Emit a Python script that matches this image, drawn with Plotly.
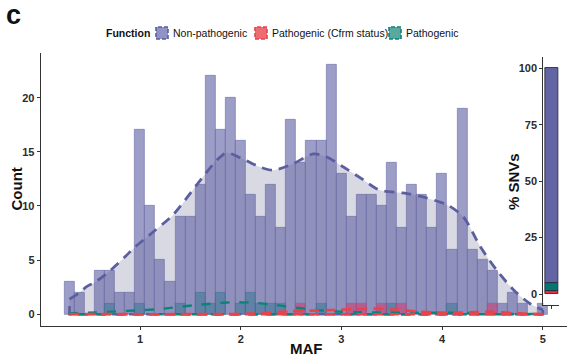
import plotly.graph_objects as go

# ---- data -------------------------------------------------------------
maf_bins = [0.3, 0.4, 0.5, 0.6, 0.7, 0.8, 0.9,
            1.0, 1.1, 1.2, 1.3, 1.4, 1.5, 1.6, 1.7, 1.8, 1.9,
            2.0, 2.1, 2.2, 2.3, 2.4, 2.5, 2.6, 2.7, 2.8, 2.9,
            3.0, 3.1, 3.2, 3.3, 3.4, 3.5, 3.6, 3.7, 3.8, 3.9,
            4.0, 4.1, 4.2, 4.3, 4.4, 4.5, 4.6, 4.7, 4.8, 4.9,
            5.0]
count_nonpath = [3, 2, 0, 4, 4, 2, 2,
                 17, 10, 5, 3, 9, 9, 12, 22, 17, 20,
                 16, 11, 9, 12, 8, 18, 14, 16, 16, 23,
                 13, 9, 11, 11, 10, 14, 8, 12, 11, 8,
                 13, 6, 19, 6, 5, 4, 1, 2, 1, 0,
                 1]
count_cfrm = [0, 0, 0, 0, 0, 0, 0,
              0, 0, 0, 0, 0, 0, 0, 0, 0, 0,
              0, 0, 0, 0, 0, 0, 1, 0, 0, 0,
              0, 1, 1, 0, 1, 0, 1, 0, 0, 0,
              0, 0, 0, 0, 0, 1, 0, 0, 0, 0,
              0]
count_path = [0, 0, 0, 0, 1, 0, 0,
              1, 0, 0, 0, 1, 0, 2, 1, 2, 0,
              1, 2, 1, 1, 1, 0, 0, 0, 1, 0,
              0, 0, 0, 0, 0, 1, 0, 0, 0, 0,
              0, 1, 0, 0, 0, 0, 0, 0, 0, 0,
              0]

# density curves (scaled to counts)
dens_nonpath_x = [0.3, 0.4, 0.47, 0.56, 0.7, 0.85, 0.95, 1.13, 1.33, 1.56, 1.76,
                  1.86, 2.03, 2.19, 2.32, 2.52, 2.72, 2.85, 3.02, 3.22, 3.37,
                  3.61, 3.78, 4.05, 4.21, 4.38, 4.54, 4.71, 4.87, 5.0]
dens_nonpath_y = [1.4, 2.0, 2.55, 3.0, 4.0, 5.3, 6.2, 7.6, 9.2, 11.9, 14.2,
                  14.9, 14.3, 13.6, 13.3, 13.9, 14.8, 14.55, 13.6, 12.4, 11.5,
                  11.2, 10.9, 10.1, 9.0, 6.24, 4.1, 2.25, 1.0, 0.4]
dens_path_x = [0.3, 0.57, 0.77, 0.97, 1.16, 1.36, 1.53, 1.76, 1.97, 2.15, 2.35,
               2.55, 2.75, 2.95, 3.15, 3.4, 3.7, 4.0, 4.2, 4.4, 4.6, 4.8, 5.0]
dens_path_y = [0.05, 0.18, 0.27, 0.36, 0.46, 0.65, 0.83, 1.02, 1.13, 1.05, 0.86,
               0.61, 0.4, 0.26, 0.2, 0.17, 0.15, 0.14, 0.13, 0.08, 0.04, 0.02, 0.01]
dens_cfrm_x = [0.3, 1.0, 1.8, 2.1, 2.3, 2.5, 2.72, 2.92, 3.15, 3.35, 3.55,
               3.75, 3.95, 4.15, 4.35, 4.5, 4.7, 4.85, 5.0]
dens_cfrm_y = [0.01, 0.01, 0.02, 0.06, 0.17, 0.28, 0.34, 0.4, 0.49, 0.52, 0.42,
               0.26, 0.16, 0.16, 0.21, 0.23, 0.12, 0.05, 0.02]

groups = ["Non-pathogenic", "Pathogenic (Cfrm status)", "Pathogenic"]
y_ticks = [0, 5, 10, 15, 20]
x_ticks = [1, 2, 3, 4, 5]
pct_ticks = [0, 25, 50, 75, 100]

# ---- styling ----------------------------------------------------------
W, H = 567, 360
FONT = "Liberation Sans, Arial, Helvetica, sans-serif"
PURPLE_LINE = "#5b5e9f"
TEAL_LINE = "#0b8478"
RED_LINE = "#e8434a"


def px_x(p):
    return p / W


def px_y(p):
    return 1 - p / H


def nz(vals):
    return [v if v else None for v in vals]


fig = go.Figure()

# histogram bars (overlaid)
fig.add_trace(go.Bar(
    x=maf_bins, y=nz(count_nonpath), width=0.1, name=groups[0],
    marker=dict(color="rgba(106,108,172,0.66)",
                line=dict(color="rgba(110,112,170,0.9)", width=0.7)),
    showlegend=False))
fig.add_trace(go.Bar(
    x=maf_bins, y=nz(count_path), width=0.1, name=groups[2],
    marker=dict(color="rgba(20,115,140,0.45)",
                line=dict(color="rgba(40,110,150,0.6)", width=0.7)),
    showlegend=False))
fig.add_trace(go.Bar(
    x=maf_bins, y=nz(count_cfrm), width=0.1, name=groups[1],
    marker=dict(color="rgba(240,40,100,0.55)",
                line=dict(color="rgba(220,60,120,0.7)", width=0.7)),
    showlegend=False))

# translucent density area of non-pathogenic SNVs
fig.add_trace(go.Scatter(
    x=dens_nonpath_x, y=dens_nonpath_y, mode="lines",
    line=dict(shape="spline", smoothing=0.8, width=0, color="rgba(0,0,0,0)"),
    fill="tozeroy", fillcolor="rgba(105,105,148,0.25)", hoverinfo="skip",
    showlegend=False))

# density outlines
fig.add_trace(go.Scatter(
    x=[dens_nonpath_x[-1], dens_nonpath_x[-1], dens_nonpath_x[0], dens_nonpath_x[0]],
    y=[dens_nonpath_y[-1], 0, 0, dens_nonpath_y[0]], mode="lines",
    line=dict(color=PURPLE_LINE, width=2.6, dash="10px,7px"),
    hoverinfo="skip", showlegend=False))
fig.add_trace(go.Scatter(
    x=dens_nonpath_x, y=dens_nonpath_y, mode="lines",
    line=dict(shape="spline", smoothing=0.8, color=PURPLE_LINE, width=2.8,
              dash="10px,7px"),
    hoverinfo="skip", showlegend=False))

fig.add_trace(go.Scatter(
    x=[dens_path_x[0]] + dens_path_x + [dens_path_x[-1]],
    y=[0] + dens_path_y + [0], mode="lines",
    line=dict(shape="spline", smoothing=0.6, color=TEAL_LINE, width=2.4,
              dash="9px,10px"),
    hoverinfo="skip", showlegend=False))
fig.add_trace(go.Scatter(
    x=[dens_path_x[-1], dens_path_x[0]], y=[0, 0], mode="lines",
    line=dict(color=TEAL_LINE, width=2.4, dash="9px,10px"),
    hoverinfo="skip", showlegend=False))

fig.add_trace(go.Scatter(
    x=[dens_cfrm_x[0]] + dens_cfrm_x + [dens_cfrm_x[-1]],
    y=[0] + dens_cfrm_y + [0], mode="lines",
    line=dict(shape="spline", smoothing=0.6, color=RED_LINE, width=2.6,
              dash="10px,6px"),
    hoverinfo="skip", showlegend=False))
fig.add_trace(go.Scatter(
    x=[dens_cfrm_x[-1], dens_cfrm_x[0]], y=[0, 0], mode="lines",
    line=dict(color=RED_LINE, width=2.6, dash="10px,6px"),
    hoverinfo="skip", showlegend=False))

# ---- inset: share of SNVs per function (stacked) ----------------------
n_total = sum(count_nonpath) + sum(count_path) + sum(count_cfrm)
pct_cfrm = 100 * sum(count_cfrm) / n_total
pct_path = 100 * sum(count_path) / n_total
pct_nonpath = 100 * sum(count_nonpath) / n_total

stack = [(pct_cfrm, "#d9363b"), (pct_path, "#04786e"), (pct_nonpath, "#6165a4")]
base = 0
for val, col in stack:
    fig.add_trace(go.Bar(
        x=[0.55], y=[val], base=[base], width=0.85, xaxis="x2", yaxis="y2",
        marker=dict(color=col, line=dict(color="#2a2a40", width=0.9)),
        showlegend=False, hoverinfo="skip"))
    base += val

axis_common = dict(showgrid=False, zeroline=False, showline=True,
                   linecolor="#333333", linewidth=1, ticks="outside",
                   ticklen=3, tickwidth=1, tickcolor="#333333",
                   tickfont=dict(family=FONT, size=11, color="#2b2b2b", weight="bold"))

fig.update_layout(
    width=W, height=H, margin=dict(l=0, r=0, t=0, b=0),
    paper_bgcolor="white", plot_bgcolor="white",
    barmode="overlay", bargap=0,
    xaxis=dict(domain=[px_x(40.7), 1.0], range=[0.014, 5.24],
               tickvals=x_ticks, anchor="y", **axis_common),
    yaxis=dict(domain=[px_y(326), px_y(52.7)], range=[-1.08, 24.15],
               tickvals=y_ticks, anchor="x", **axis_common),
    xaxis2=dict(domain=[px_x(543.3), px_x(559)], range=[0, 1],
                tickvals=[0.55], ticktext=[""], anchor="y2", **axis_common),
    yaxis2=dict(domain=[px_y(305.3), px_y(57)], range=[-5, 105],
                tickvals=pct_ticks, anchor="x2", **axis_common),
)

# ---- text -------------------------------------------------------------
def note(text, x, y, size, rot=0, xanchor="center", yanchor="middle", bold=True):
    fig.add_annotation(text=text, x=px_x(x), y=px_y(y), xref="paper", yref="paper",
                       showarrow=False, textangle=rot, xanchor=xanchor, yanchor=yanchor,
                       borderpad=0, borderwidth=0,
                       font=dict(family=FONT, size=size, color="#111111",
                                 weight="bold" if bold else "normal"))


note("Count", 15.5, 189, 15, rot=-90)
note("MAF", 306.5, 348, 15)
note("% SNVs", 513, 182, 15, rot=-90)
note("c", 6, 15, 27, xanchor="left")

# legend
note("Function", 106, 33, 10.5, xanchor="left")
legend_items = [
    (156, groups[0], "#9193c6", PURPLE_LINE),
    (255, groups[1], "#ec6c72", RED_LINE),
    (389, groups[2], "#5aa8a0", TEAL_LINE),
]
for x0, label, fill, edge in legend_items:
    fig.add_shape(type="rect", xref="paper", yref="paper",
                  x0=px_x(x0), x1=px_x(x0 + 12), y0=px_y(39), y1=px_y(27),
                  fillcolor=fill, line=dict(color=edge, width=1.6, dash="4px,2px"))
    note(label, x0 + 17, 33, 10.5, xanchor="left", bold=False)

fig.write_html("out.html")
